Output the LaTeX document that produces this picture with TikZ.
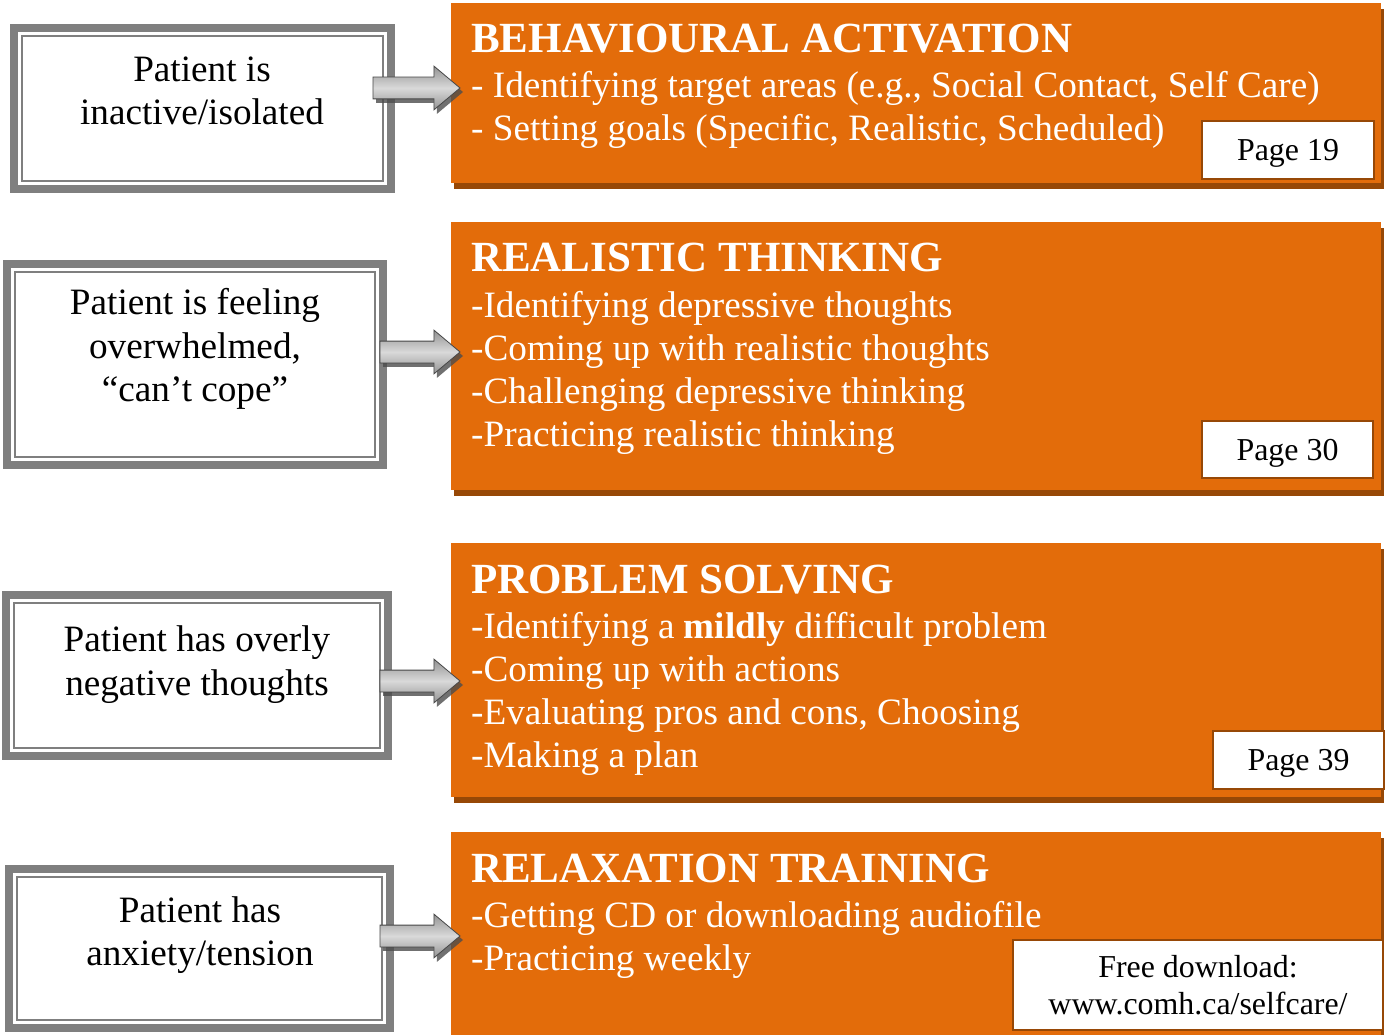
\documentclass[tikz,border=0pt]{standalone}
\usepackage{fontspec}
\setmainfont{Liberation Serif}
\usetikzlibrary{shapes.arrows,shadows,calc}

\definecolor{actorange}{HTML}{E36C0A}
\definecolor{actshadow}{HTML}{974806}
\definecolor{framegray}{HTML}{7F7F7F}

\newcommand{\bodyfont}{\fontsize{37.2}{43}\selectfont}
\newcommand{\headfont}{\fontsize{43}{50}\selectfont\bfseries}
\newcommand{\pagefont}{\fontsize{31.9}{37}\selectfont}

\tikzset{
    causebox/.style={draw=framegray, line width=8pt, fill=white, anchor=north west, inner sep=0, outer sep=0},
    innerline/.style={draw=framegray, line width=1.8pt},
    skillbox/.style={fill=actorange, anchor=north west, inner sep=0, outer sep=0, minimum width=930pt,
        drop shadow={fill=actshadow, opacity=1, shadow xshift=3pt, shadow yshift=-6pt}},
    pagebox/.style={draw=actshadow, line width=1.5pt, fill=white, anchor=north west, outer sep=0,
        inner sep=0, text depth=0pt, align=center, font=\pagefont},
    causetext/.style={anchor=base, inner sep=0, font=\bodyfont},
    headtext/.style={anchor=base west, inner sep=0, text=white, font=\headfont},
    itemtext/.style={anchor=base west, inner sep=0, text=white, font=\bodyfont},
    blockarrow/.style={single arrow, anchor=west, inner sep=0, outer sep=0, minimum height=87pt,
        text height=10.5pt, text depth=10.5pt, minimum width=43pt,
        single arrow head extend=11pt, single arrow tip angle=80,
        draw=gray!55!black, line width=0.8pt,
        top color=gray!85, bottom color=gray!85, middle color=gray!30,
        drop shadow={fill=gray!60!black, opacity=0.8, shadow xshift=3pt, shadow yshift=-4pt}}
}

\begin{document}
\begin{tikzpicture}[x=1pt, y=-1pt]
    \useasboundingbox (0,0) rectangle (1385,1035);

    % cause boxes on the left
    \node[causebox, minimum width=377pt, minimum height=161pt] (c1) at (14,28) {};
    \node[causebox, minimum width=376pt, minimum height=201pt] (c2) at (7,264) {};
    \node[causebox, minimum width=382pt, minimum height=161pt] (c3) at (6,595) {};
    \node[causebox, minimum width=381pt, minimum height=159pt] (c4) at (9,869) {};
    \foreach \n in {c1,c2,c3,c4}
        \draw[innerline] ($(\n.north west)+(8,8)$) rectangle ($(\n.south east)+(-8,-8)$);

    \node[causetext] (c1a) at (202,82) {Patient is};
    \node[causetext] (c1b) at (202,125) {inactive/isolated};
    \node[causetext] (c2a) at (195,315) {Patient is feeling};
    \node[causetext] (c2b) at (195,358) {overwhelmed,};
    \node[causetext] (c2c) at (195,401) {“can’t cope”};
    \node[causetext] (c3a) at (197,651) {Patient has overly};
    \node[causetext] (c3b) at (197,695) {negative thoughts};
    \node[causetext] (c4a) at (200,922) {Patient has};
    \node[causetext] (c4b) at (200,965) {anxiety/tension};

    % skill boxes on the right
    \node[skillbox, minimum height=180pt] (s1) at (451,3) {};
    \node[skillbox, minimum height=268pt] (s2) at (451,222) {};
    \node[skillbox, minimum height=254pt] (s3) at (451,543) {};
    \node[skillbox, minimum height=215pt] (s4) at (451,832) {};

    % arrows
    \node[blockarrow] (a1) at (373,88) {};
    \node[blockarrow, minimum height=80pt] (a2) at (380,352) {};
    \node[blockarrow, minimum height=80pt] (a3) at (380,681) {};
    \node[blockarrow, minimum height=80pt] (a4) at (380,936) {};

    % behavioural activation
    \node[headtext] (h1) at (471,53) {BEHAVIOURAL ACTIVATION};
    \node[itemtext] (i11) at (471,98) {- Identifying target areas (e.g., Social Contact, Self Care)};
    \node[itemtext] (i12) at (471,141) {- Setting goals (Specific, Realistic, Scheduled)};
    \node[pagebox, minimum width=172pt, minimum height=58pt] (g1) at (1202,121) {Page 19};

    % realistic thinking
    \node[headtext] (h2) at (471,272) {REALISTIC THINKING};
    \node[itemtext] (i21) at (471,317) {-Identifying depressive thoughts};
    \node[itemtext] (i22) at (471,360) {-Coming up with realistic thoughts};
    \node[itemtext] (i23) at (471,403) {-Challenging depressive thinking};
    \node[itemtext] (i24) at (471,446) {-Practicing realistic thinking};
    \node[pagebox, minimum width=171pt, minimum height=57pt] (g2) at (1202,421) {Page 30};

    % problem solving
    \node[headtext] (h3) at (471,593) {PROBLEM SOLVING};
    \node[itemtext] (i31) at (471,638) {-Identifying a \textbf{mildly} difficult problem};
    \node[itemtext] (i32) at (471,681) {-Coming up with actions};
    \node[itemtext] (i33) at (471,724) {-Evaluating pros and cons, Choosing};
    \node[itemtext] (i34) at (471,767) {-Making a plan};
    \node[pagebox, minimum width=171pt, minimum height=58pt] (g3) at (1213,731) {Page 39};

    % relaxation training
    \node[headtext] (h4) at (471,882) {RELAXATION TRAINING};
    \node[itemtext] (i41) at (471,927) {-Getting CD or downloading audiofile};
    \node[itemtext] (i42) at (471,970) {-Practicing weekly};
    \node[pagebox, minimum width=370pt, minimum height=90pt] (g4) at (1013,940) {Free download:\\www.comh.ca/selfcare/};
\end{tikzpicture}
\end{document}
